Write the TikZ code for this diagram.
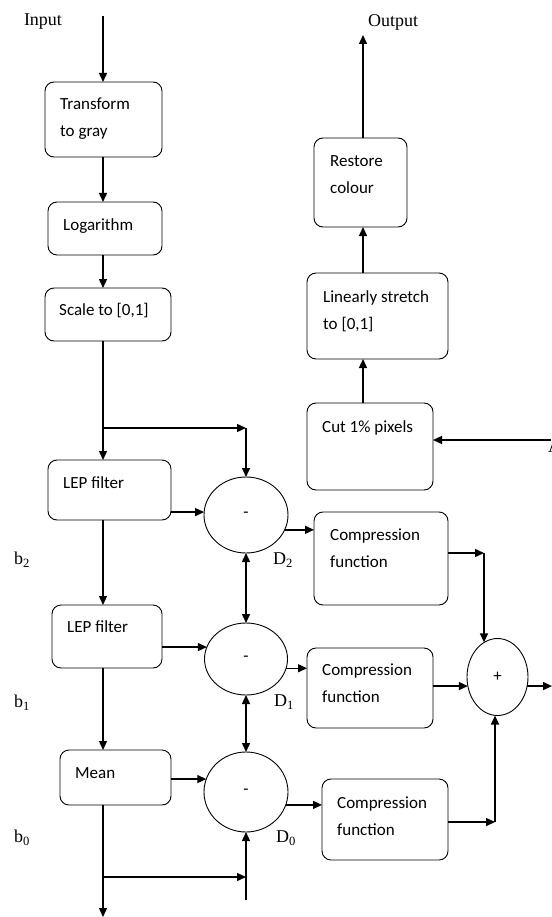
\documentclass[tikz,border=0pt]{standalone}
\usepackage{fontspec}
\setmainfont{Liberation Serif}
\newfontfamily\boxfont{Carlito}
\usetikzlibrary{arrows.meta,shapes.geometric,calc}
\newcommand{\bt}[1]{\begin{tabular}[t]{@{}l@{}}#1\end{tabular}}
\begin{document}
\begin{tikzpicture}[x=1pt,y=-1pt,
 blk/.style={draw, rounded corners=9pt, line width=0.9pt, inner sep=0pt, outer sep=0pt},
 sub/.style={ellipse, draw, line width=0.9pt, inner sep=0pt, outer sep=0pt, font=\boxfont\fontsize{17}{20}\selectfont},
 txt/.style={anchor=base west, inner sep=0pt, font=\boxfont\fontsize{17}{27}\selectfont},
 lbl/.style={inner sep=0pt, font=\fontsize{18}{20}\selectfont},
 arr/.style={line width=1.4pt, -{Triangle[length=9pt,width=8pt]}},
 dbl/.style={line width=1.4pt, {Triangle[length=9pt,width=8pt]}-{Triangle[length=9pt,width=8pt]}},
]
\useasboundingbox (0,0) rectangle (551,917);

% boxes
\node[blk, minimum width=117pt, minimum height=75pt] (trans) at (103.5,119.5) {};
\node[blk, minimum width=114pt, minimum height=53pt] (log) at (105,228.5) {};
\node[blk, minimum width=126pt, minimum height=53pt] (scale) at (108,314.5) {};
\node[blk, minimum width=123pt, minimum height=60pt] (lep1) at (109.5,490) {};
\node[blk, minimum width=110pt, minimum height=63pt] (lep2) at (107,636.5) {};
\node[blk, minimum width=111pt, minimum height=55pt] (mean) at (115.5,777.5) {};
\node[blk, minimum width=93pt, minimum height=89pt] (restore) at (360.5,182.5) {};
\node[blk, minimum width=141pt, minimum height=86pt] (lin) at (377.5,316) {};
\node[blk, minimum width=126pt, minimum height=87pt] (cut) at (370,446.5) {};
\node[blk, minimum width=134pt, minimum height=93pt] (comp2) at (381,558.5) {};
\node[blk, minimum width=126pt, minimum height=80pt] (comp1) at (370,688) {};
\node[blk, minimum width=126pt, minimum height=81pt] (comp3) at (385,819.5) {};

% box texts
\node[txt] (ttrans) at (60,110) {\bt{Transform\\to gray}};
\node[txt] (tlog) at (63,230) {Logarithm};
\node[txt] (tscale) at (59,315) {Scale to [0,1]};
\node[txt] (tlep1) at (63,488) {LEP filter};
\node[txt] (tlep2) at (67,632) {LEP filter};
\node[txt] (tmean) at (75,778) {Mean};
\node[txt] (trestore) at (330,167) {\bt{Restore\\colour}};
\node[txt] (tlin) at (323,302) {\bt{Linearly stretch\\to [0,1]}};
\node[txt] (tcut) at (322,432) {Cut 1\% pixels};
\node[txt] (tcomp2) at (330,540) {\bt{Compression\\function}};
\node[txt] (tcomp1) at (322,675) {\bt{Compression\\function}};
\node[txt] (tcomp3) at (337,808) {\bt{Compression\\function}};

% ellipses
\node[sub, minimum width=84pt, minimum height=76pt] (c1) at (246,515) {-};
\node[sub, minimum width=83pt, minimum height=72pt] (c2) at (246,659) {-};
\node[sub, minimum width=84pt, minimum height=80pt] (c3) at (246,792) {-};
\node[sub, minimum width=61pt, minimum height=77pt] (plus) at (497.5,677) {+};

% labels
\node[lbl] (lin0) at (43,22) {Input};
\node[lbl] (lout) at (393,22) {Output};
\node[lbl] (lb2) at (22,560) {b\textsubscript{2}};
\node[lbl] (lb1) at (22,703) {b\textsubscript{1}};
\node[lbl] (lb0) at (22,838) {b\textsubscript{0}};
\node[lbl] (ld2) at (283,560) {D\textsubscript{2}};
\node[lbl] (ld1) at (284,702) {D\textsubscript{1}};
\node[lbl] (ld0) at (286,838) {D\textsubscript{0}};
\node[lbl, anchor=base west] (la) at (548,452) {A};

% coordinates
\coordinate (colA) at (103,0);
\coordinate (colB) at (363,0);
\coordinate (inTop) at (103,16);
\coordinate (outTop) at (363,35);
\coordinate (br2) at (103,428);
\coordinate (br0) at (103,877);
\coordinate (bot) at (103,917);
\coordinate (up0) at ($(c3.south)+(0,68)$);
\coordinate (j2) at (484,553);
\coordinate (j0) at (495,822);
\coordinate (pout) at (552,0);
\coordinate (aIn) at (551,440);

% left chain
\draw[arr] (inTop) -- (colA |- trans.north);
\draw[arr] (colA |- trans.south) -- (colA |- log.north);
\draw[arr] (colA |- log.south) -- (colA |- scale.north);
\draw[arr] (colA |- scale.south) -- (colA |- lep1.north);
\draw[arr] (br2) -- (br2 -| c1.north);
\draw[arr] (br2 -| c1.north) -- (c1.north);
\draw[arr] (c1.176 -| lep1.east) -- (c1.176);
\draw[arr] (colA |- lep1.south) -- (colA |- lep2.north);
\draw[arr] (c2.163 -| lep2.east) -- (c2.163);
\draw[arr] (colA |- lep2.south) -- (colA |- mean.north);
\draw[arr] (c3.162 -| mean.east) -- (c3.162);
\draw[arr] (colA |- mean.south) -- (bot);
\draw[arr] (br0) -- (br0 -| c3.south);
\draw[arr] (up0) -- (c3.south);
\draw[dbl] (c1.south) -- (c2.north);
\draw[dbl] (c2.south) -- (c3.north);

% to compression
\draw[arr] (c1.-21) -- (c1.-21 -| comp2.west);
\draw[arr] (c2.-13) -- (c2.-13 -| comp1.west);
\draw[arr] (c3.-18) -- (c3.-18 -| comp3.west);

% to plus
\draw[arr] (comp2.east |- j2) -- (j2);
\draw[arr] (j2) -- (j2 |- plus.111);
\draw[arr] (plus.197 -| comp1.east) -- (plus.197);
\draw[arr] (comp3.east |- j0) -- (j0);
\draw[arr] (j0) -- (j0 |- plus.south);
\draw[arr] (plus.-17) -- (plus.-17 -| pout);

% right chain
\draw[arr] (aIn) -- (aIn -| cut.east);
\draw[arr] (colB |- cut.north) -- (colB |- lin.south);
\draw[arr] (colB |- lin.north) -- (colB |- restore.south);
\draw[arr] (colB |- restore.north) -- (outTop);
\end{tikzpicture}
\end{document}
